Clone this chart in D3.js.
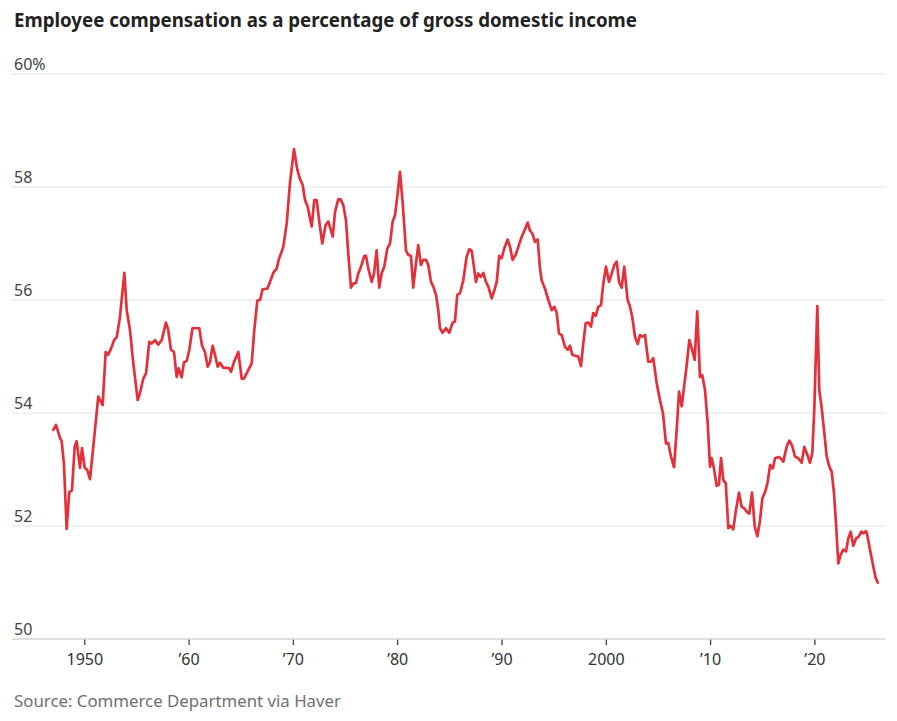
<!DOCTYPE html>
<html>
<head>
<meta charset="utf-8">
<script src="https://cdn.jsdelivr.net/npm/d3@7"></script>
<style>
  body { margin: 0; background: #fff; }
  svg { display: block; font-family: "Noto Sans", sans-serif; }
</style>
</head>
<body>
<div id="chart"></div>
<script>
// data
const years = [
  1947.03, 1947.29, 1947.67, 1947.83, 1948.05, 1948.31, 1948.56, 1948.82, 1949.08, 1949.27,
  1949.59, 1949.78, 1950.04, 1950.29, 1950.55, 1950.86, 1951.34, 1951.76, 1952.05, 1952.30,
  1952.63, 1952.85, 1953.11, 1953.42, 1953.84, 1954.07, 1954.38, 1954.70, 1955.12, 1955.34,
  1955.66, 1955.92, 1956.23, 1956.46, 1956.78, 1957.09, 1957.42, 1957.83, 1958.05, 1958.31,
  1958.60, 1958.86, 1959.05, 1959.34, 1959.56, 1959.82, 1960.07, 1960.37, 1961.03, 1961.28,
  1961.57, 1961.83, 1962.05, 1962.31, 1962.53, 1962.79, 1963.01, 1963.33, 1963.65, 1963.90,
  1964.07, 1964.35, 1964.77, 1965.09, 1965.31, 1965.72, 1966.05, 1966.27, 1966.59, 1966.85,
  1967.10, 1967.55, 1967.80, 1968.12, 1968.45, 1968.64, 1969.08, 1969.41, 1969.72, 1970.11,
  1970.42, 1970.68, 1970.94, 1971.16, 1971.42, 1971.80, 1972.05, 1972.28, 1972.53, 1972.82,
  1973.14, 1973.39, 1973.62, 1973.82, 1974.04, 1974.35, 1974.58, 1974.83, 1975.09, 1975.31,
  1975.57, 1975.79, 1976.05, 1976.27, 1976.53, 1976.85, 1977.01, 1977.23, 1977.56, 1977.78,
  1978.03, 1978.28, 1978.51, 1978.76, 1979.05, 1979.31, 1979.57, 1979.79, 1980.01, 1980.27,
  1980.53, 1980.84, 1981.06, 1981.32, 1981.54, 1981.80, 1982.02, 1982.28, 1982.50, 1982.76,
  1982.98, 1983.24, 1983.46, 1983.72, 1983.94, 1984.10, 1984.36, 1984.68, 1984.99, 1985.32,
  1985.54, 1985.76, 1986.02, 1986.34, 1986.66, 1986.91, 1987.14, 1987.29, 1987.55, 1987.78,
  1988.01, 1988.26, 1988.51, 1988.73, 1989.06, 1989.28, 1989.54, 1989.78, 1990.02, 1990.26,
  1990.59, 1990.82, 1991.07, 1991.36, 1991.61, 1991.94, 1992.25, 1992.51, 1992.73, 1992.95,
  1993.21, 1993.47, 1993.69, 1993.85, 1994.17, 1994.49, 1994.81, 1995.06, 1995.29, 1995.51,
  1995.77, 1996.09, 1996.35, 1996.57, 1996.79, 1997.12, 1997.37, 1997.62, 1997.84, 1998.07,
  1998.32, 1998.58, 1998.80, 1999.03, 1999.28, 1999.54, 1999.76, 2000.02, 2000.31, 2000.57,
  2000.82, 2001.05, 2001.27, 2001.52, 2001.77, 2002.09, 2002.31, 2002.54, 2002.80, 2003.06,
  2003.28, 2003.50, 2003.76, 2004.07, 2004.33, 2004.55, 2004.88, 2005.20, 2005.48, 2005.77,
  2005.99, 2006.25, 2006.54, 2006.80, 2007.02, 2007.28, 2007.50, 2007.76, 2008.01, 2008.27,
  2008.52, 2008.77, 2009.03, 2009.25, 2009.51, 2009.77, 2009.99, 2010.15, 2010.37, 2010.63,
  2010.85, 2011.05, 2011.27, 2011.50, 2011.75, 2011.98, 2012.22, 2012.48, 2012.77, 2013.03,
  2013.28, 2013.57, 2013.76, 2014.02, 2014.28, 2014.53, 2014.79, 2015.01, 2015.27, 2015.50,
  2015.76, 2016.01, 2016.23, 2016.54, 2016.77, 2017.02, 2017.35, 2017.60, 2017.85, 2018.14,
  2018.46, 2018.78, 2019.03, 2019.32, 2019.58, 2019.80, 2019.99, 2020.28, 2020.47, 2020.70,
  2020.92, 2021.18, 2021.43, 2021.66, 2021.88, 2022.07, 2022.29, 2022.52, 2022.77, 2023.03,
  2023.25, 2023.48, 2023.73, 2023.99, 2024.25, 2024.50, 2024.69, 2024.95, 2025.07, 2025.33,
  2025.65, 2025.88, 2026.07
];

const values = [
  53.70, 53.79, 53.56, 53.50, 53.10, 51.95, 52.60, 52.63, 53.40, 53.50,
  53.03, 53.38, 53.03, 52.99, 52.83, 53.40, 54.29, 54.14, 55.08, 55.03,
  55.17, 55.29, 55.34, 55.70, 56.48, 55.82, 55.47, 54.88, 54.23, 54.35,
  54.61, 54.70, 55.26, 55.23, 55.29, 55.21, 55.29, 55.60, 55.47, 55.12,
  55.08, 54.64, 54.79, 54.63, 54.90, 54.92, 55.12, 55.50, 55.50, 55.20,
  55.08, 54.82, 54.90, 55.19, 55.03, 54.82, 54.89, 54.80, 54.80, 54.79,
  54.73, 54.90, 55.08, 54.61, 54.61, 54.76, 54.88, 55.41, 55.99, 56.00,
  56.19, 56.20, 56.32, 56.48, 56.56, 56.71, 56.94, 57.36, 58.07, 58.67,
  58.31, 58.14, 58.04, 57.77, 57.65, 57.30, 57.77, 57.77, 57.39, 57.00,
  57.33, 57.39, 57.25, 57.12, 57.56, 57.78, 57.78, 57.68, 57.41, 56.82,
  56.22, 56.29, 56.30, 56.47, 56.59, 56.78, 56.78, 56.56, 56.32, 56.47,
  56.88, 56.22, 56.47, 56.59, 56.91, 57.00, 57.39, 57.50, 57.83, 58.27,
  57.71, 56.88, 56.80, 56.78, 56.22, 56.65, 56.97, 56.62, 56.71, 56.71,
  56.62, 56.32, 56.24, 56.09, 55.82, 55.50, 55.42, 55.50, 55.42, 55.60,
  55.62, 56.09, 56.12, 56.35, 56.77, 56.90, 56.87, 56.68, 56.32, 56.47,
  56.41, 56.48, 56.32, 56.24, 56.03, 56.15, 56.32, 56.78, 56.74, 56.91,
  57.07, 56.94, 56.71, 56.80, 56.94, 57.12, 57.25, 57.37, 57.23, 57.18,
  57.03, 57.07, 56.56, 56.35, 56.20, 56.00, 55.82, 55.88, 55.78, 55.41,
  55.38, 55.17, 55.12, 55.19, 55.03, 55.01, 55.00, 54.83, 55.23, 55.59,
  55.60, 55.53, 55.77, 55.72, 55.88, 55.91, 56.29, 56.59, 56.32, 56.47,
  56.62, 56.68, 56.32, 56.22, 56.59, 56.00, 55.89, 55.70, 55.35, 55.22,
  55.38, 55.35, 55.38, 54.91, 54.91, 54.97, 54.53, 54.22, 54.00, 53.46,
  53.47, 53.23, 53.04, 53.70, 54.38, 54.12, 54.46, 54.85, 55.29, 55.13,
  54.94, 55.80, 54.64, 54.67, 54.41, 53.82, 53.05, 53.20, 53.02, 52.71,
  52.73, 53.20, 52.81, 52.76, 51.96, 52.00, 51.94, 52.28, 52.59, 52.34,
  52.31, 52.24, 52.22, 52.59, 51.99, 51.82, 52.10, 52.49, 52.60, 52.76,
  53.08, 53.02, 53.20, 53.22, 53.20, 53.14, 53.41, 53.51, 53.43, 53.23,
  53.20, 53.12, 53.40, 53.26, 53.12, 53.29, 54.06, 55.89, 54.41, 54.09,
  53.70, 53.23, 53.05, 52.96, 52.58, 52.05, 51.34, 51.49, 51.58, 51.55,
  51.78, 51.90, 51.65, 51.78, 51.81, 51.90, 51.87, 51.91, 51.84, 51.58,
  51.28, 51.08, 51.00
];

const yTicks = [50, 52, 54, 56, 58, 60];
const xTicks = [1950, 1960, 1970, 1980, 1990, 2000, 2010, 2020];
const xTickLabels = ["1950", "\u201960", "\u201970", "\u201980", "\u201990", "2000", "\u201910", "\u201920"];

const titleText = "Employee compensation as a percentage of gross domestic income";
const sourceText = "Source: Commerce Department via Haver";

const data = years.map((y, i) => ({ year: y, value: values[i] }));

// layout
const W = 897, H = 721;
const margin = { top: 74, right: 12, bottom: 82, left: 12 };
const width = W - margin.left - margin.right,
      height = H - margin.top - margin.bottom;

const svg = d3.select("#chart").append("svg")
    .attr("width", W)
    .attr("height", H);

const g = svg.append("g")
    .attr("transform", `translate(${margin.left},${margin.top})`);

const xScale = d3.scaleLinear()
    .domain([1943.07, 2026.77])
    .range([0, width]);

const yScale = d3.scaleLinear()
    .domain([50, 60])
    .range([height, 0]);

// gridlines
g.selectAll(".grid")
    .data(yTicks.filter(d => d !== 50))
    .join("line")
    .attr("class", "grid")
    .attr("x1", 0)
    .attr("x2", width)
    .attr("y1", d => yScale(d))
    .attr("y2", d => yScale(d))
    .attr("stroke", "#e2e2e2")
    .attr("stroke-width", 1);

// y labels sit above their gridline
g.selectAll(".ylabel")
    .data(yTicks)
    .join("text")
    .attr("class", "ylabel")
    .attr("x", 2)
    .attr("y", d => yScale(d) - 4)
    .attr("fill", "#444")
    .attr("font-size", 16)
    .text(d => d === 60 ? d + "%" : d);

// x axis
const xAxis = d3.axisBottom(xScale)
    .tickValues(xTicks)
    .tickFormat((d, i) => xTickLabels[i])
    .tickSize(6)
    .tickPadding(9);

const gx = g.append("g")
    .attr("class", "axis x-axis")
    .attr("transform", `translate(0, ${height})`)
    .call(xAxis);

gx.select(".domain").remove();
gx.selectAll(".tick line").attr("stroke", "#333").attr("stroke-width", 1.2);
gx.selectAll(".tick text")
    .attr("fill", "#333")
    .attr("font-size", 16)
    .attr("font-family", '"Noto Sans", sans-serif');

// baseline
g.append("line")
    .attr("x1", 0)
    .attr("x2", width)
    .attr("y1", yScale(50))
    .attr("y2", yScale(50))
    .attr("stroke", "#d6d6d6")
    .attr("stroke-width", 1.5);

// the line
const line = d3.line()
    .x(d => xScale(d.year))
    .y(d => yScale(d.value));

g.append("path")
    .datum(data)
    .attr("fill", "none")
    .attr("stroke", "#e3313b")
    .attr("stroke-width", 2.7)
    .attr("stroke-linejoin", "round")
    .attr("stroke-linecap", "round")
    .attr("d", line);

// title and source
svg.append("text")
    .attr("x", 14)
    .attr("y", 27)
    .attr("font-size", 20)
    .attr("font-weight", 700)
    .attr("fill", "#222")
    .attr("textLength", 623)
    .attr("lengthAdjust", "spacingAndGlyphs")
    .text(titleText);

svg.append("text")
    .attr("x", 14)
    .attr("y", 707)
    .attr("font-size", 16)
    .attr("fill", "#707070")
    .attr("textLength", 327)
    .attr("lengthAdjust", "spacingAndGlyphs")
    .text(sourceText);
</script>
</body>
</html>
